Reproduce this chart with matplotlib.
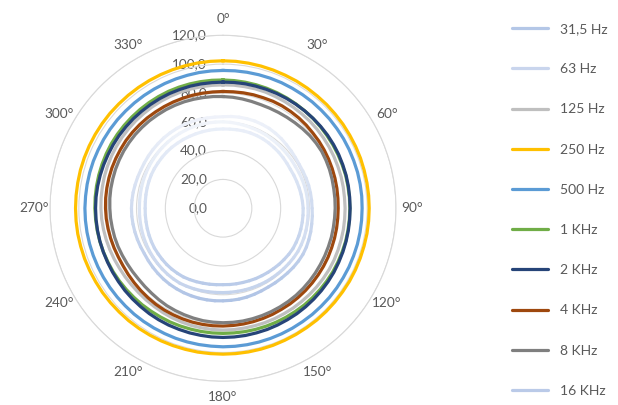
import numpy as np
import matplotlib
matplotlib.use('Agg')
import matplotlib.pyplot as plt
from matplotlib.collections import LineCollection
from matplotlib.lines import Line2D
from matplotlib.colors import to_rgb
import matplotlib.transforms as mtransforms

plt.rcParams['font.family'] = ['Lato', 'DejaVu Sans']

# ---------------- data ----------------
angles_deg = list(range(0, 360, 5))
angle_tick_deg = list(range(0, 360, 30))
angle_labels = [f'{a}°' for a in angle_tick_deg]
r_ticks = [0, 20, 40, 60, 80, 100, 120]
r_tick_labels = ['0,0', '20,0', '40,0', '60,0', '80,0', '100,0', '120,0']

series_names = ['31,5 Hz', '63 Hz', '125 Hz', '250 Hz', '500 Hz',
                '1 KHz', '2 KHz', '4 KHz', '8 KHz', '16 KHz']

hz31_5 = [63.5, 63.9, 64.2, 64.3, 64.4, 64.2, 64.0, 63.5, 63.0, 62.3, 61.8, 61.3,
          61.0, 61.1, 61.3, 61.5, 61.6, 61.7, 61.8, 62.2, 62.5, 63.0, 63.4, 63.8,
          64.0, 63.9, 63.7, 63.4, 63.2, 63.1, 63.0, 63.2, 63.5, 63.8, 64.0, 64.1,
          64.2, 64.4, 64.5, 64.6, 64.6, 64.6, 64.5, 64.4, 64.2, 63.9, 63.6, 63.3,
          63.0, 63.1, 63.2, 63.3, 63.4, 63.5, 63.5, 63.4, 63.3, 63.1, 63.0, 62.9,
          63.0, 63.2, 63.4, 63.6, 63.8, 63.9, 64.0, 64.0, 63.9, 63.8, 63.6, 63.5]
hz63 = [60.0, 59.8, 59.6, 59.4, 59.2, 59.1, 59.0, 58.7, 58.5, 58.3, 58.2, 58.1,
        58.0, 58.2, 58.4, 58.6, 58.8, 58.9, 59.0, 59.2, 59.4, 59.6, 59.8, 59.9,
        60.0, 59.8, 59.6, 59.4, 59.2, 59.1, 59.0, 58.8, 58.7, 58.6, 58.5, 58.5,
        58.5, 58.6, 58.8, 59.1, 59.4, 59.7, 60.0, 59.9, 59.8, 59.6, 59.4, 59.2,
        59.0, 58.8, 58.6, 58.4, 58.2, 58.1, 58.0, 58.1, 58.2, 58.4, 58.6, 58.8,
        59.0, 59.2, 59.4, 59.6, 59.8, 59.9, 60.0, 60.1, 60.2, 60.2, 60.1, 60.0]
hz125 = [85.6, 85.7, 85.7, 85.8, 85.8, 85.6, 85.5, 85.4, 85.3, 85.3, 85.2, 85.1,
         85.0, 84.9, 84.8, 84.8, 84.7, 84.6, 84.7, 84.7, 84.8, 84.8, 84.9, 85.0,
         85.0, 84.9, 84.8, 84.7, 84.6, 84.6, 84.5, 84.5, 84.5, 84.4, 84.4, 84.5,
         84.5, 84.4, 84.3, 84.2, 84.0, 83.8, 83.5, 83.2, 83.0, 82.8, 82.8, 82.9,
         83.0, 83.3, 83.6, 83.9, 84.2, 84.5, 84.7, 84.9, 85.0, 85.2, 85.3, 85.4,
         85.5, 85.6, 85.6, 85.7, 85.7, 85.8, 85.8, 85.8, 85.8, 85.7, 85.7, 85.6]
hz250 = [102.3, 102.3, 102.2, 102.1, 102.0, 101.9, 101.9, 101.8, 101.7, 101.7, 101.6, 101.6,
         101.5, 101.5, 101.5, 101.4, 101.4, 101.4, 101.4, 101.4, 101.4, 101.3, 101.3, 101.3,
         101.3, 101.2, 101.2, 101.2, 101.2, 101.1, 101.1, 101.1, 101.2, 101.2, 101.2, 101.2,
         101.2, 101.2, 101.3, 101.3, 101.4, 101.5, 101.6, 101.7, 101.8, 101.8, 101.9, 102.0,
         102.0, 102.1, 102.2, 102.2, 102.3, 102.3, 102.3, 102.3, 102.3, 102.4, 102.4, 102.4,
         102.4, 102.4, 102.4, 102.3, 102.3, 102.3, 102.3, 102.3, 102.3, 102.3, 102.3, 102.3]
hz500 = [95.6, 95.7, 95.8, 95.9, 96.0, 96.1, 96.1, 96.2, 96.3, 96.3, 96.4, 96.4,
         96.5, 96.5, 96.5, 96.6, 96.6, 96.6, 96.5, 96.5, 96.5, 96.5, 96.4, 96.4,
         96.3, 96.3, 96.3, 96.2, 96.2, 96.1, 96.1, 96.1, 96.1, 96.1, 96.1, 96.1,
         96.1, 96.0, 96.0, 96.0, 96.0, 95.9, 95.9, 95.9, 95.9, 95.8, 95.8, 95.8,
         95.8, 95.8, 95.8, 95.8, 95.8, 95.8, 95.8, 95.7, 95.7, 95.7, 95.7, 95.6,
         95.6, 95.6, 95.6, 95.5, 95.5, 95.5, 95.5, 95.5, 95.5, 95.5, 95.6, 95.6]
khz1 = [89.0, 88.9, 88.8, 88.7, 88.6, 88.5, 88.4, 88.3, 88.2, 88.2, 88.1, 88.0,
        88.0, 88.0, 88.0, 88.1, 88.0, 88.0, 88.0, 88.0, 88.0, 88.1, 88.0, 88.0,
        88.0, 87.9, 87.8, 87.7, 87.6, 87.4, 87.3, 87.2, 87.1, 87.0, 86.9, 86.8,
        86.8, 86.8, 86.8, 86.8, 86.9, 87.0, 87.0, 87.1, 87.3, 87.4, 87.6, 87.8,
        88.0, 88.1, 88.3, 88.5, 88.6, 88.7, 88.9, 89.0, 89.1, 89.2, 89.3, 89.4,
        89.5, 89.5, 89.5, 89.5, 89.5, 89.5, 89.5, 89.5, 89.4, 89.3, 89.2, 89.1]
khz2 = [87.5, 87.6, 87.7, 87.7, 87.8, 87.9, 88.0, 88.1, 88.2, 88.3, 88.4, 88.5,
        88.5, 88.5, 88.4, 88.4, 88.3, 88.2, 88.2, 88.2, 88.3, 88.4, 88.5, 88.6,
        88.8, 88.9, 89.0, 89.1, 89.2, 89.3, 89.3, 89.4, 89.5, 89.5, 89.6, 89.6,
        89.6, 89.6, 89.5, 89.5, 89.4, 89.4, 89.3, 89.2, 89.0, 88.9, 88.8, 88.6,
        88.5, 88.4, 88.4, 88.4, 88.4, 88.4, 88.4, 88.4, 88.3, 88.2, 88.1, 88.0,
        88.0, 88.0, 87.9, 87.9, 87.8, 87.8, 87.8, 87.8, 87.7, 87.7, 87.6, 87.5]
khz4 = [81.0, 81.1, 81.3, 81.5, 81.6, 81.9, 82.0, 81.9, 81.8, 81.6, 81.3, 81.2,
        81.0, 80.8, 80.6, 80.4, 80.2, 80.0, 79.9, 79.9, 80.0, 80.1, 80.2, 80.4,
        80.5, 80.6, 80.7, 80.8, 80.9, 81.0, 81.0, 81.2, 81.3, 81.4, 81.5, 81.6,
        81.7, 81.8, 81.8, 81.8, 81.7, 81.6, 81.5, 81.3, 81.0, 80.7, 80.4, 80.2,
        80.0, 80.1, 80.4, 80.7, 81.0, 81.3, 81.5, 81.7, 81.8, 81.9, 82.0, 82.0,
        82.0, 82.1, 82.0, 81.9, 81.8, 81.6, 81.5, 81.4, 81.3, 81.2, 81.1, 81.0]
khz8 = [77.5, 77.3, 77.0, 76.7, 76.5, 76.6, 76.8, 77.1, 77.5, 78.0, 78.5, 78.8,
        79.0, 78.8, 78.6, 78.3, 78.0, 77.9, 77.8, 77.7, 77.7, 77.8, 77.8, 77.9,
        78.0, 78.2, 78.4, 78.6, 78.8, 78.9, 79.0, 79.1, 79.2, 79.3, 79.4, 79.4,
        79.4, 79.3, 79.2, 78.9, 78.6, 78.3, 78.0, 77.5, 77.0, 76.7, 76.5, 76.6,
        76.8, 77.1, 77.5, 77.8, 78.0, 78.3, 78.5, 78.8, 79.0, 79.1, 79.3, 79.4,
        79.5, 79.5, 79.5, 79.4, 79.3, 79.1, 79.0, 78.8, 78.6, 78.3, 78.0, 77.8]
khz16 = [55.0, 55.1, 55.3, 55.5, 55.6, 55.6, 55.5, 55.3, 55.0, 54.8, 54.5, 54.2,
         54.0, 54.2, 54.4, 54.7, 55.0, 55.3, 55.6, 55.7, 55.8, 55.9, 56.0, 56.0,
         56.0, 55.7, 55.3, 55.0, 54.6, 54.3, 54.0, 53.8, 53.5, 53.3, 53.2, 53.1,
         53.0, 53.2, 53.5, 53.8, 54.2, 54.6, 55.0, 55.1, 55.2, 55.2, 55.1, 55.0,
         55.0, 54.8, 54.6, 54.4, 54.2, 54.1, 54.0, 54.1, 54.3, 54.5, 54.7, 54.9,
         55.0, 55.0, 55.1, 55.2, 55.2, 55.1, 55.1, 55.0, 55.0, 55.0, 55.0, 55.0]

series_values = [hz31_5, hz63, hz125, hz250, hz500, khz1, khz2, khz4, khz8, khz16]

# style: (legend colour, gradient top colour or None, gradient bottom colour)
styles = [
    ('#B4C7E7', '#F0F3FA', '#AFC3E5'),
    ('#C9D5ED', '#F3F6FB', '#C2D1EB'),
    ('#BFBFBF', None, None),
    ('#FFC000', None, None),
    ('#5B9BD5', None, None),
    ('#70AD47', None, None),
    ('#264478', None, None),
    ('#9E480E', None, None),
    ('#7F7F7F', None, None),
    ('#BACAE8', '#EEF2FA', '#B4C7E7'),
]

LW = 2.3
TXT = '#595959'
GRID = '#D9D9D9'

fig = plt.figure(figsize=(6.18, 4.05), dpi=100)
ax = fig.add_axes([0.0809, 0.0586, 0.5599, 0.8543], projection='polar')
ax.set_theta_zero_location('N')
ax.set_theta_direction(-1)
ax.set_ylim(0, 120)

theta = np.deg2rad(angles_deg)
handles = []
for name, vals, (col, top, bot) in zip(series_names, series_values, styles):
    th = np.append(theta, theta[0])
    rr = np.append(np.asarray(vals, float), vals[0])
    if top is None:
        ax.plot(th, rr, color=col, lw=LW, solid_joinstyle='round')
    else:
        pts = np.column_stack([th, rr])
        segs = np.stack([pts[:-1], pts[1:]], axis=1)
        ymid = 0.5 * (rr[:-1] * np.cos(th[:-1]) + rr[1:] * np.cos(th[1:]))
        t = np.clip((65 - ymid) / 130, 0, 1)
        c0, c1 = np.array(to_rgb(top)), np.array(to_rgb(bot))
        cols = c0[None, :] + t[:, None] * (c1 - c0)[None, :]
        lc = LineCollection(segs, colors=cols, linewidths=LW, capstyle='round',
                            transform=ax.transData)
        ax.add_collection(lc)
    handles.append(Line2D([0], [0], color=col, lw=LW, solid_capstyle='round'))

# grid / spines
ax.set_yticks(r_ticks)
ax.set_yticklabels([])
ax.yaxis.grid(True, color=GRID, lw=0.8)
ax.xaxis.grid(False)
ax.spines['polar'].set_color(GRID)
ax.spines['polar'].set_linewidth(0.8)
ax.set_thetagrids(angle_tick_deg, labels=angle_labels)
ax.tick_params(axis='x', length=0, pad=4.5, labelsize=9.8, labelcolor=TXT)
ax.tick_params(axis='y', length=0)

off = mtransforms.offset_copy(ax.transData, fig=fig, x=-16, y=0, units='dots')
for v, lab in zip(r_ticks, r_tick_labels):
    ax.text(0, v, lab, transform=off, ha='right', va='center',
            fontsize=9.8, color=TXT, zorder=1)

leg = fig.legend(handles, series_names, loc='upper left',
                 bbox_to_anchor=(0.8285, 0.943), frameon=False,
                 fontsize=10, labelcolor=TXT, handlelength=2.6,
                 handletextpad=0.86, labelspacing=2.03, borderpad=0,
                 borderaxespad=0)

fig.savefig('out.png', dpi=100)
